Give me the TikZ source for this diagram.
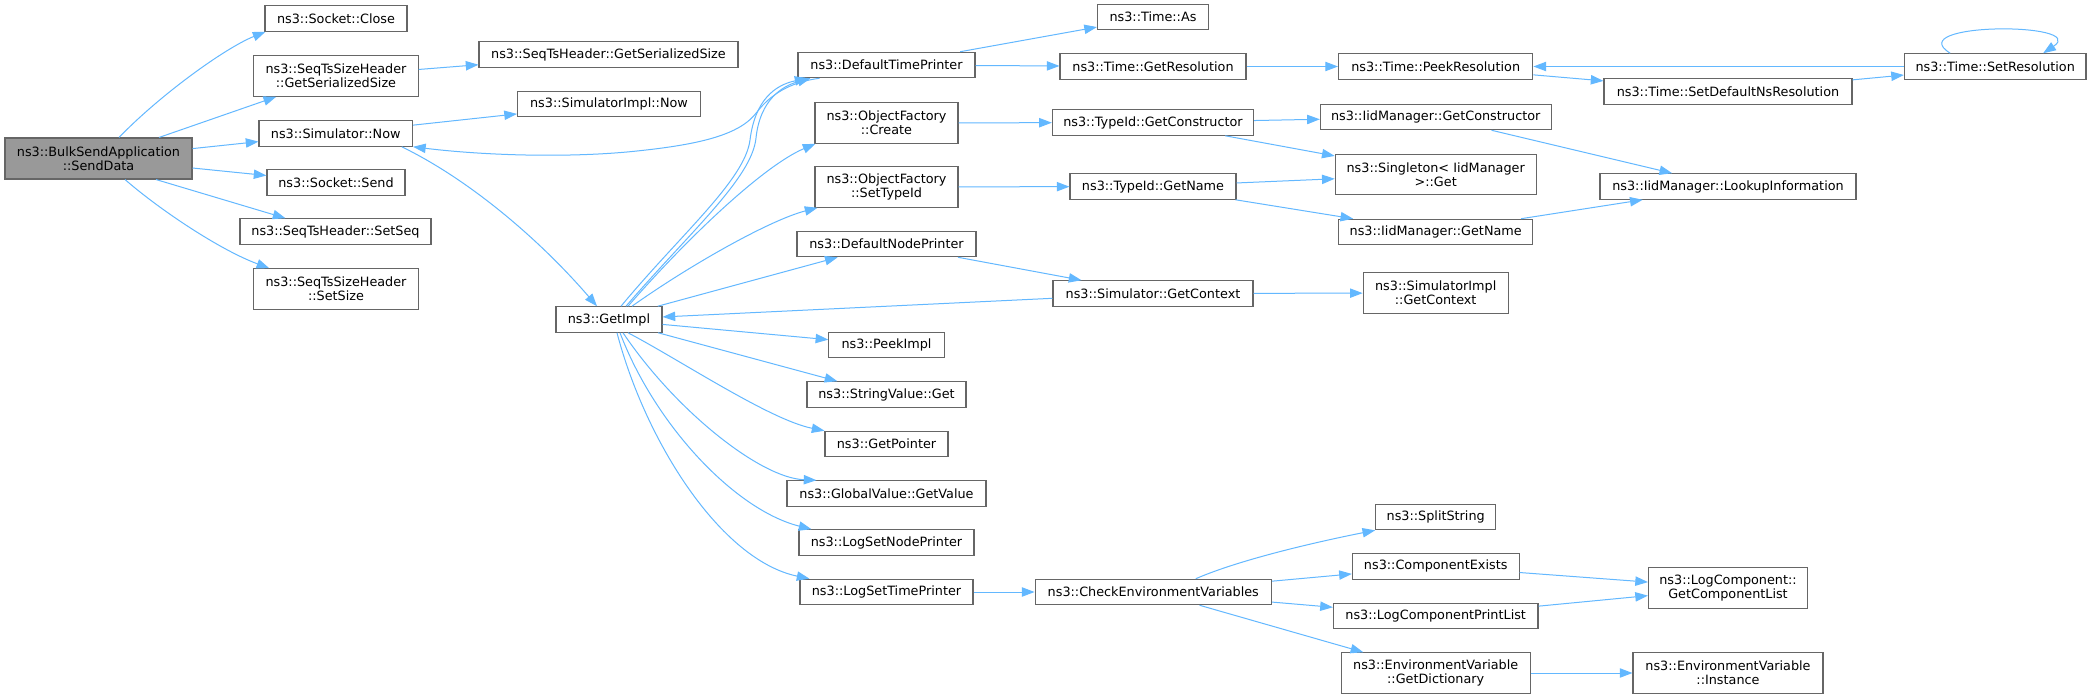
\documentclass[tikz,border=0pt]{standalone}
\usepackage{fontspec}
\setmainfont{DejaVu Sans}
\usetikzlibrary{arrows.meta,calc}
\definecolor{edgeblue}{HTML}{63B8FF}
\definecolor{boxline}{HTML}{666666}
\definecolor{boxgray}{HTML}{999999}
\begin{document}
\begin{tikzpicture}[x=0.75pt,y=-0.75pt,
  fbox/.style={draw=boxline, line width=0.8pt, fill=white, inner sep=0pt, align=center,
    font=\fontsize{9.6}{10.25}\selectfont, text=black},
  bw/.style={minimum width=#1*0.75pt},
  bh/.style={minimum height=#1*0.75pt},
  edge/.style={draw=edgeblue, line width=0.75pt, -{Triangle[length=9.5pt,width=7pt]}}]
\fill[white] (0,0) rectangle (2093,699);
\useasboundingbox (0,0) rectangle (2093,699);

% rank 0
\node[fbox,fill=boxgray,bw=187,bh=41] (senddata) at (98.5,158.5) {ns3::BulkSendApplication\\::SendData};
% rank 1
\node[fbox,bw=142,bh=25.5] (close) at (336,18.5) {ns3::Socket::Close};
\node[fbox,bw=164.4,bh=40.5] (ssgss) at (336,76) {ns3::SeqTsSizeHeader\\::GetSerializedSize};
\node[fbox,bw=153.5,bh=25.5] (simnow) at (335.75,133.5) {ns3::Simulator::Now};
\node[fbox,bw=138,bh=25.5] (send) at (336,182.5) {ns3::Socket::Send};
\node[fbox,bw=191,bh=25.5] (setseq) at (335.5,231.5) {ns3::SeqTsHeader::SetSeq};
\node[fbox,bw=164.4,bh=40.5] (setsize) at (336,289) {ns3::SeqTsSizeHeader\\::SetSize};
% rank 2
\node[fbox,bw=259,bh=25.5] (stgss) at (608.5,54.5) {ns3::SeqTsHeader::GetSerializedSize};
\node[fbox,bw=183,bh=25.5] (simimplnow) at (609,104) {ns3::SimulatorImpl::Now};
\node[fbox,bw=106,bh=25.5] (getimpl) at (609,319.5) {ns3::GetImpl};
% rank 3
\node[fbox,bw=177,bh=25.5] (dtp) at (886.5,65) {ns3::DefaultTimePrinter};
\node[fbox,bw=143,bh=40.5] (create) at (886.5,123) {ns3::ObjectFactory\\::Create};
\node[fbox,bw=143,bh=40.5] (settypeid) at (886.5,187) {ns3::ObjectFactory\\::SetTypeId};
\node[fbox,bw=179,bh=25.5] (dnp) at (886.5,244) {ns3::DefaultNodePrinter};
\node[fbox,bw=115.4,bh=25.5] (peekimpl) at (886.5,345) {ns3::PeekImpl};
\node[fbox,bw=159,bh=25.5] (strget) at (886.5,394.5) {ns3::StringValue::Get};
\node[fbox,bw=123,bh=25.5] (getptr) at (886.5,444) {ns3::GetPointer};
\node[fbox,bw=199,bh=25.5] (gvget) at (886.5,493.5) {ns3::GlobalValue::GetValue};
\node[fbox,bw=175,bh=25.5] (lsnp) at (886.5,542.5) {ns3::LogSetNodePrinter};
\node[fbox,bw=173,bh=25.5] (lstp) at (886.5,592) {ns3::LogSetTimePrinter};
% rank 4
\node[fbox,bw=111,bh=25.5] (timeas) at (1153,17) {ns3::Time::As};
\node[fbox,bw=186,bh=25.5] (getres) at (1153,66.5) {ns3::Time::GetResolution};
\node[fbox,bw=201.3,bh=25.5] (tgetctor) at (1153,122.5) {ns3::TypeId::GetConstructor};
\node[fbox,bw=166,bh=25.5] (tgetname) at (1153,186.5) {ns3::TypeId::GetName};
\node[fbox,bw=200,bh=25.5] (sgetctx) at (1153,293.5) {ns3::Simulator::GetContext};
\node[fbox,bw=236.4,bh=25.5] (checkenv) at (1153.3,592) {ns3::CheckEnvironmentVariables};
% rank 5
\node[fbox,bw=194.4,bh=25.5] (peekres) at (1435.7,66.5) {ns3::Time::PeekResolution};
\node[fbox,bw=230.7,bh=25.5] (iidctor) at (1435.7,117) {ns3::IidManager::GetConstructor};
\node[fbox,bw=201,bh=40.5] (singleton) at (1435.7,174.5) {ns3::Singleton< IidManager\\ >::Get};
\node[fbox,bw=194.4,bh=25.5] (iidname) at (1435.7,232) {ns3::IidManager::GetName};
\node[fbox,bw=145,bh=40.5] (simimplctx) at (1435.7,293) {ns3::SimulatorImpl\\::GetContext};
\node[fbox,bw=120,bh=25.5] (split) at (1435.7,517) {ns3::SplitString};
\node[fbox,bw=166.7,bh=25.5] (compexists) at (1435.7,566.3) {ns3::ComponentExists};
\node[fbox,bw=204.6,bh=25.5] (lcprint) at (1435.7,616) {ns3::LogComponentPrintList};
\node[fbox,bw=189,bh=40.5] (getdict) at (1435.7,673) {ns3::EnvironmentVariable\\::GetDictionary};
% rank 6
\node[fbox,bw=248,bh=25.5] (setdefns) at (1728,91.5) {ns3::Time::SetDefaultNsResolution};
\node[fbox,bw=256,bh=25.5] (lookup) at (1728,186.5) {ns3::IidManager::LookupInformation};
\node[fbox,bw=159,bh=40.5] (lcgcl) at (1728,588) {ns3::LogComponent::\\GetComponentList};
\node[fbox,bw=190,bh=40.5] (envinst) at (1728,673) {ns3::EnvironmentVariable\\::Instance};
% rank 7
\node[fbox,bw=181.5,bh=25.5] (setres) at (1995.2,66.5) {ns3::Time::SetResolution};

% straight connectors
\draw[edge] (senddata) -- (ssgss);
\draw[edge] (senddata) -- (simnow);
\draw[edge] (senddata) -- (send);
\draw[edge] ($(senddata.south)+(57.5,0)$) -- ($(setseq.north west)+(46,0)$);
\draw[edge] (ssgss) -- (stgss);
\draw[edge] (simnow) -- (simimplnow);
\draw[edge] (dtp) -- (timeas);
\draw[edge] (dtp) -- (getres);
\draw[edge] (create) -- (tgetctor);
\draw[edge] (settypeid) -- (tgetname);
\draw[edge] (dnp) -- (sgetctx);
\draw[edge] (sgetctx) -- (getimpl);
\draw[edge] (getimpl) -- (dnp);
\draw[edge] (getimpl) -- (peekimpl);
\draw[edge] (getimpl) -- (strget);
\draw[edge] (lstp) -- (checkenv);
\draw[edge] (getres) -- (peekres);
\draw[edge] (tgetctor) -- (iidctor);
\draw[edge] (tgetctor) -- (singleton);
\draw[edge] (tgetname) -- (singleton);
\draw[edge] (tgetname) -- (iidname);
\draw[edge] (sgetctx) -- (simimplctx);
\draw[edge] (checkenv) -- (compexists);
\draw[edge] (checkenv) -- (lcprint);
\draw[edge] (checkenv) -- (getdict);
\draw[edge] (peekres) -- (setdefns);
\draw[edge] (setdefns) -- (setres);
\draw[edge] (setres) -- (peekres);
\draw[edge] (iidctor) -- (lookup);
\draw[edge] (iidname) -- (lookup);
\draw[edge] (compexists) -- (lcgcl);
\draw[edge] (lcprint) -- (lcgcl);
\draw[edge] (getdict) -- (envinst);

% curved connectors
\draw[edge] ($(senddata.north)+(20.5,0)$) .. controls (160,95) and (225,48) .. ($(close.south west)+(1,0)$);
\draw[edge] ($(senddata.south)+(26.5,0)$) .. controls (160,210) and (220,250) .. ($(setsize.north west)+(16,0)$);
\draw[edge] ($(simnow.south)+(66,0)$) .. controls (470,180) and (540,240) .. ($(getimpl.north)+(-12,0)$);
\draw[edge] ($(dtp.south west)+(22,0)$) .. controls (790,82) and (770,95) .. (757,112)
  .. controls (740,135) and (700,145) .. (627,152)
  .. controls (560,158) and (480,155) .. (simnow.south east);
\draw[edge] ($(getimpl.north)+(12,0)$) .. controls (680,235) and (745,180) .. (750,140)
  .. controls (755,100) and (775,85) .. ($(dtp.south west)+(10,0)$);
\draw[edge] ($(getimpl.north)+(17,0)$) .. controls (690,232) and (752,178) .. (756,138)
  .. controls (760,100) and (782,86) .. ($(dtp.south west)+(13,0)$);
\draw[edge] ($(getimpl.north)+(19,0)$) .. controls (690,235) and (765,165) .. ($(create.south west)+(1,0)$);
\draw[edge] ($(getimpl.north)+(23,0)$) .. controls (690,265) and (770,220) .. ($(settypeid.south west)+(3,0)$);
\draw[edge] ($(getimpl.south)+(19,0)$) .. controls (680,360) and (770,420) .. (getptr.north west);
\draw[edge] ($(getimpl.south)+(14,0)$) .. controls (675,410) and (760,478) .. ($(gvget.north west)+(30,0)$);
\draw[edge] ($(getimpl.south)+(11,0)$) .. controls (655,425) and (735,510) .. ($(lsnp.north west)+(13,0)$);
\draw[edge] ($(getimpl.south)+(8,0)$) .. controls (645,440) and (720,560) .. ($(lstp.north west)+(10,0)$);
\draw[edge] ($(checkenv.north)+(42.5,0)$) .. controls (1241,559) and (1321,541) .. (split.south west);
\draw[edge] ($(setres.north)+(-45,0)$) .. controls (1900,22) and (2090,22) .. ($(setres.north)+(48,0)$);
\end{tikzpicture}
\end{document}
